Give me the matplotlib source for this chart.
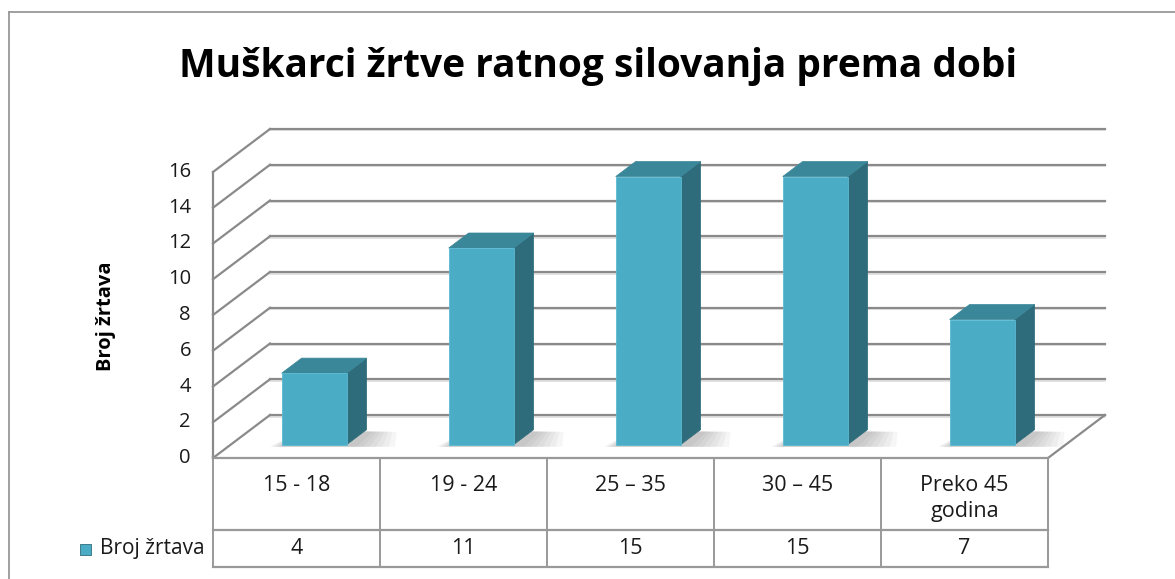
import matplotlib.pyplot as plt
from matplotlib.patches import Polygon, Rectangle
from matplotlib.lines import Line2D

# data
categories = ['15 - 18', '19 - 24', '25 \u2013 35', '30 \u2013 45', 'Preko 45\ngodina']
values = [4, 11, 15, 15, 7]
series_name = 'Broj \u017ertava'
title = 'Mu\u0161karci \u017ertve ratnog silovanja prema dobi'
yticks = list(range(0, 17, 2))

plt.rcParams['font.family'] = ['Open Sans', 'DejaVu Sans']

W, H = 1175, 579
fig = plt.figure(figsize=(W / 100, H / 100), dpi=100)

# front plane of the plot in pixels
x_left, x_right = 213, 1048
y_zero, y_top = 458, 172
ax = fig.add_axes([x_left / W, 1 - y_zero / H, (x_right - x_left) / W, (y_zero - y_top) / H])
ax.set_xlim(-0.5, len(categories) - 0.5)
ax.set_ylim(0, 16)
ax.axis('off')

px_x = (x_right - x_left) / len(categories)   # pixels per category
px_y = (y_zero - y_top) / 16.0                # pixels per unit
DX = 57 / px_x      # depth offset
DY = 43 / px_y

grid_c = '#8a8a8a'
face_c = '#4bacc6'
side_c = '#2e6c7b'
top_c = '#3a8799'
text_c = '#1a1a1a'

x0 = -0.5
x1 = len(categories) - 0.5

# walls and floor
for v in yticks:
    ax.add_line(Line2D([x0 + DX, x1 + DX], [v + DY, v + DY], color=grid_c, lw=1.6, clip_on=False, zorder=1))
    ax.add_line(Line2D([x0 + DX, x1 + DX], [v + DY - 1.5 / px_y] * 2, color='#dddddd', lw=1.2, clip_on=False, zorder=0.9))
    ax.add_line(Line2D([x0, x0 + DX], [v, v + DY], color=grid_c, lw=1.6, clip_on=False, zorder=1))
ax.add_line(Line2D([x1, x1 + DX], [0, DY], color=grid_c, lw=1.6, clip_on=False, zorder=1))
ax.add_line(Line2D([x0, x0], [0, 16], color=grid_c, lw=1.6, clip_on=False, zorder=1))

for v in yticks:
    ax.text(x0 - 22 / px_x, v, str(v), ha='right', va='center', fontsize=14.5, color=text_c)

# bars
f = 0.31       # front of bar, fraction of depth
d = 0.35       # bar depth, fraction
bw = 65 / px_x
for i, v in enumerate(values):
    bx0 = i - bw / 2 + f * DX
    bx1 = bx0 + bw
    by = f * DY
    # soft floor shadow, several faint layers
    for k in range(7):
        grow = (6 - k) * 4 / px_x
        ax.add_patch(Polygon([(bx0 - grow * 0.5, by - 0.12), (bx1 + 10 / px_x + grow * 1.6, by - 0.12),
                              (bx1 + d * DX + 6 / px_x + grow, by + d * DY * 0.85),
                              (bx0 + d * DX, by + d * DY)],
                             closed=True, fc='#3a3a3a', ec='none', alpha=0.045, zorder=2, clip_on=False))
    ax.add_patch(Rectangle((bx0, by), bw, v, fc=face_c, ec='#5bbad2', lw=0.6, zorder=4, clip_on=False))
    ax.add_patch(Polygon([(bx1, by), (bx1 + d * DX, by + d * DY), (bx1 + d * DX, by + v + d * DY), (bx1, by + v)],
                         closed=True, fc=side_c, ec=side_c, lw=0.5, zorder=3, clip_on=False))
    ax.add_patch(Polygon([(bx0, by + v), (bx1, by + v), (bx1 + d * DX, by + v + d * DY), (bx0 + d * DX, by + v + d * DY)],
                         closed=True, fc=top_c, ec=top_c, lw=0.5, zorder=3, clip_on=False))

# data table
r1 = -(530 - y_zero) / px_y
r2 = -(567 - y_zero) / px_y
tbl_c = '#999999'
for yy in [0, r1, r2]:
    ax.add_line(Line2D([x0, x1], [yy, yy], color=tbl_c, lw=1.6, clip_on=False, zorder=5))
for k in range(len(categories) + 1):
    ax.add_line(Line2D([x0 + k, x0 + k], [0, r2], color=tbl_c, lw=1.4, clip_on=False, zorder=5))
for i, c in enumerate(categories):
    for j, line in enumerate(c.split('\n')):
        ax.text(i, -(491 + 26 * j - y_zero) / px_y, line, ha='center', va='baseline',
                fontsize=15.5, color=text_c)
    ax.text(i, (r1 + r2) / 2, str(values[i]), ha='center', va='center', fontsize=15.5, color=text_c)

# legend key in the table
ax.add_patch(Rectangle((x0 - 133 / px_x, (r1 + r2) / 2 - 6 / px_y), 11 / px_x, 11 / px_y,
                       fc=face_c, ec='#2e6c7b', lw=0.6, clip_on=False))
ax.text(x0 - 8 / px_x, (r1 + r2) / 2, series_name, ha='right', va='center', fontsize=15, color=text_c)

# axis title and chart title
fig.text(106 / W, 1 - 316 / H, series_name, rotation=90, ha='center', va='center',
         fontsize=14.5, fontweight='bold')
fig.text(598 / W, 1 - 77 / H, title, ha='center', va='baseline', fontsize=28, fontweight='bold')

# outer frame
fig.add_artist(Line2D([9 / W, 9 / W], [0, 1 - 12 / H], color='#999999', lw=1.3))
fig.add_artist(Line2D([9 / W, 1], [1 - 12 / H, 1 - 12 / H], color='#999999', lw=1.3))

fig.savefig('out.png', dpi=100)
